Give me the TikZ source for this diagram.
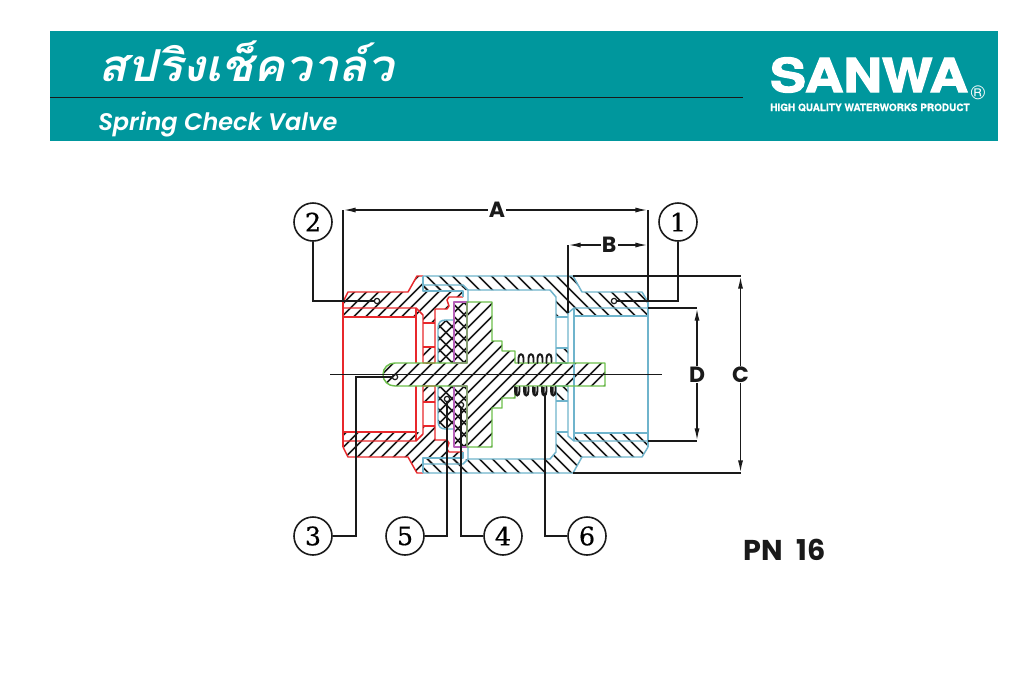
\documentclass[tikz,border=0pt]{standalone}
\usepackage{fontspec}
\usepackage{graphicx}
\usetikzlibrary{arrows.meta}
\newfontfamily\popf{Poppins}
\newfontfamily\popm[ItalicFont={Poppins SemiBold Italic}]{Poppins SemiBold}
\newfontfamily\helv[BoldFeatures={FakeBold=2.6}]{TeX Gyre Heros}
\newfontfamily\helvt[BoldFeatures={FakeBold=0.8}]{TeX Gyre Heros}
\newfontfamily\serf[FakeBold=0.5]{DejaVu Serif}
\newfontfamily\thaif[Script=Thai]{Loma}
\definecolor{teal}{HTML}{00979D}
\definecolor{redl}{HTML}{E8282C}
\definecolor{bluel}{HTML}{6FB4CC}
\definecolor{greenl}{HTML}{6CBF4B}
\definecolor{purpl}{HTML}{B65FB9}
\definecolor{inkk}{HTML}{1A1A1A}
\tikzset{
  hl/.style={inkk,line width=1.15pt},
  rl/.style={redl,line width=1.1pt,line join=round},
  bl/.style={bluel,line width=1.1pt,line join=round},
  gl/.style={greenl,line width=1.1pt,line join=round},
  pl/.style={purpl,line width=1.1pt,line join=round},
  ln/.style={inkk,line width=1.2pt},
  dim/.style={ln,{Latex[length=9.5pt,width=3.8pt]}-{Latex[length=9.5pt,width=3.8pt]}},
  balloon/.style={circle,draw=inkk,line width=1.2pt,fill=white,minimum size=28.5pt,inner sep=0pt,font=\serf\fontsize{19}{19}\selectfont},
  dimlab/.style={fill=white,inner sep=0.8pt,text=inkk,font=\popf\bfseries\fontsize{16.5}{16.5}\selectfont},
  dotm/.style={circle,draw=inkk,line width=0.9pt,fill=none,minimum size=4pt,inner sep=0pt},
  coil/.style={inkk,line width=1.45pt,line cap=round},
}
\def\hsgn{1}
\newcommand\hatch[3]{% path, dir (1 = backslash on screen), spacing
  \begin{scope}
    \clip #1;
    \pgfmathsetmacro\da{300*#2*\hsgn}
    \pgfmathsetmacro\db{-300*#2*\hsgn}
    \pgfmathsetmacro\kb{200+#3}
    \foreach \k in {200,\kb,...,850} \draw[hl] ({\k+\db},74.5) -- ({\k+\da},674.5);
  \end{scope}}
\newcommand\halfhatch{%
  % red body
  \hatch{(343,302)--(348,292)--(408,292)--(417,276)--(423,276)--(423,291)--(463,291)--(463,297)--(449,297)--(447,300)--(449,306)--(447,309)--(435,309)--(435,323)--(423,323)--(423,316)--(416,317)--(343,317)--cycle}{-1}{12}
  \hatch{(423,347)--(435,347)--(435,363)--(423,363)--cycle}{-1}{12}
  % blue body
  \hatch{(423,276)--(573,276)--(582,292)--(642,292)--(648,302)--(648,316)--(574,316)--(574,308)--(568,313)--(568,317)--(556,317)--(556,297)--(550,290)--(423,290)--cycle}{1}{13}
  \hatch{(423,285)--(463,285)--(463,291)--(423,291)--cycle}{1}{13}
  \hatch{(556,348)--(568,348)--(568,363)--(556,363)--cycle}{1}{13}
  % seat ring
  \hatch{(438,363)--(438,328)..controls(438,322)and(441,320)..(446,320)--(454,320)--(454,363)--cycle}{1}{12}
  \hatch{(438,363)--(438,328)..controls(438,322)and(441,320)..(446,320)--(454,320)--(454,363)--cycle}{-1}{12}
  % washer
  \hatch{(454,302)--(467,302)--(467,363)--(454,363)--cycle}{1}{12}
  \hatch{(454,302)--(467,302)--(467,363)--(454,363)--cycle}{-1}{12}
}
\newcommand\halfoutline{%
  % red
  \draw[rl] (343,302)--(348,292)--(408,292)--(417,276)--(423,276);
  \draw[rl] (343,308)--(416,308)--(423,315);
  \draw[rl] (343,317)--(416,317);
  \draw[rl] (416,308)--(416,363);
  \draw[rl] (423,315)--(423,363)--(435,363)--(435,309)--(447,309)--(449,306)--(447,300)--(449,297)--(463,297);
  \draw[rl] (423,323)--(435,323) (423,347)--(435,347);
  % blue
  \draw[bl] (423,276)--(573,276)--(582,292)--(642,292)--(648,302);
  \draw[bl] (423,276)--(423,291)--(463,291)--(463,297);
  \draw[bl] (423,285)--(463,285)--(468,290)--(468,302);
  \draw[bl] (468,290)--(550,290)--(556,297)--(556,363)--(568,363)--(568,313)--(574,308)--(648,308);
  \draw[bl] (574,316)--(648,316);
  \draw[bl] (556,317)--(568,317) (556,348)--(568,348);
  % seat ring and washer
  \draw[bl] (438,363)--(438,328)..controls(438,322)and(441,320)..(446,320)--(454,320);
  \draw[pl] (454,363)--(454,302)--(467,302)--(467,363)--cycle;
}
\begin{document}
\begin{tikzpicture}[x=0.75pt,y=-0.75pt]
\useasboundingbox (0,0) rectangle (1024,683);
\fill[white] (0,0) rectangle (1024,683);
% header
\fill[teal] (50,31) rectangle (998,141);
\draw[inkk,line width=0.8pt] (50,97.5) -- (743,97.5);
\node[anchor=base west,inner sep=0pt,text=white] (title) at (98,81) {\scalebox{1.075}[1]{\thaif\bfseries\itshape\fontsize{33}{33}\selectfont สปริงเช็ควาล์ว}};
\node[anchor=base west,inner sep=0pt,text=white] (subtitle) at (98,130.5) {\popm\itshape\fontsize{18}{18}\selectfont Spring Check Valve};
\node[anchor=base west,inner sep=0pt,text=white] (brand) at (770,92) {\scalebox{1.145}[1]{\helv\bfseries\fontsize{35}{35}\selectfont SANWA}};
\node[anchor=base west,inner sep=0pt,text=white] (tag) at (770,111) {\helvt\bfseries\fontsize{7.5}{7.5}\selectfont HIGH QUALITY WATERWORKS PRODUCT};
\node[anchor=center,inner sep=0pt,text=white] (reg) at (978,93) {\helvt\fontsize{15}{15}\selectfont ®};
% hatching
\halfhatch
\begin{scope}[shift={(0,749)},yscale=-1]
  \def\hsgn{-1}
  \halfhatch
\end{scope}
% green stem and disc
\def\greenpath{(467,302)--(492,302)--(492,341)--(502,341)--(502,351)--(515,351)--(515,363)--(605,363)--(605,386)--(515,386)--(515,398)--(502,398)--(502,408)--(492,408)--(492,447)--(467,447)--(467,386)--(395,386)..controls(388,386)and(383,381)..(383,374.5)..controls(383,368)and(388,363)..(395,363)--(467,363)--cycle}
\hatch{\greenpath}{-1}{13}
\halfoutline
\begin{scope}[shift={(0,749)},yscale=-1]
  \halfoutline
\end{scope}
\draw[rl] (343,302)--(343,447);
\draw[bl] (574,308)--(574,441) (648,302)--(648,447);
\draw[gl] \greenpath;
% centre line
\coordinate (cl) at (330,374.5);
\coordinate (cr) at (662,374.5);
\draw[ln] (cl) -- (cr);
% spring
\foreach \x in {521,531,540,549}
  \draw[coil] (\x-2.5,363) -- (\x-2.5,358) .. controls (\x-2.5,353) and (\x+2.5,353) .. (\x+2.5,358) -- (\x+2.5,362);
\foreach \x in {517,526,535,544,553}{
  \draw[coil] (\x-2,387) -- (\x-2,391) .. controls (\x-2,397) and (\x+2.5,397) .. (\x+2.5,391) -- (\x+2.5,387);
  \fill[inkk] (\x-3,387) -- (\x+0.5,387) -- (\x+0.5,394) -- (\x-2,394) -- cycle;
}
% extension lines and dimensions
\coordinate (al) at (343,210); \coordinate (ar) at (648,210);
\coordinate (alb) at (343,302); \coordinate (arb) at (648,302);
\coordinate (bl) at (568,245); \coordinate (br) at (648,245);
\coordinate (blb) at (568,313);
\coordinate (ct) at (740.5,276); \coordinate (cb) at (740.5,473);
\coordinate (ctl) at (573,276); \coordinate (cbl) at (573,473);
\coordinate (dt) at (697,308); \coordinate (db) at (697,441);
\coordinate (dtl) at (648,308); \coordinate (dbl) at (648,441);
\draw[ln] (al) -- (alb);
\draw[ln] (ar) -- (arb);
\draw[ln] (bl) -- (blb);
\draw[ln] (ctl) -- (ct);
\draw[ln] (cbl) -- (cb);
\draw[ln] (dtl) -- (dt);
\draw[ln] (dbl) -- (db);
\draw[dim] (al) -- (ar) node[dimlab,pos=0.505] (la) {A};
\draw[dim] (bl) -- (br) node[dimlab,pos=0.515] (lb) {B};
\draw[dim] (ct) -- (cb) node[dimlab,pos=0.5] (lc) {C};
\draw[dim] (dt) -- (db) node[dimlab,pos=0.5] (ld) {D};
% balloons
\node[balloon] (n2) at (313,222) {2};
\node[balloon] (n1) at (678,222) {1};
\node[balloon] (n3) at (313,536) {3};
\node[balloon] (n5) at (405,536) {5};
\node[balloon] (n4) at (503,536) {4};
\node[balloon] (n6) at (587,536) {6};
\node[dotm] (d2) at (377,301) {};
\node[dotm] (d1) at (614,301) {};
\node[dotm] (d3) at (395,377) {};
\node[dotm] (d5) at (447,399) {};
\node[dotm] (d4) at (461,405) {};
\coordinate (d6) at (545,393);
\coordinate (k3) at (356,377);
\draw[ln] (n2.south) |- (d2.west);
\draw[ln] (n1.south) |- (d1.east);
\draw[ln] (n3.east) -| (k3) -- (d3.west);
\draw[ln] (n5.east) -| (d5.south);
\draw[ln] (n4.west) -| (d4.south);
\draw[ln] (n6.west) -| (d6);
% rating
\node[anchor=base west,inner sep=0pt,text=inkk] (pn) at (743,560) {\popf\bfseries\fontsize{21.5}{21.5}\selectfont PN\hspace{6pt} 16};
\end{tikzpicture}
\end{document}
